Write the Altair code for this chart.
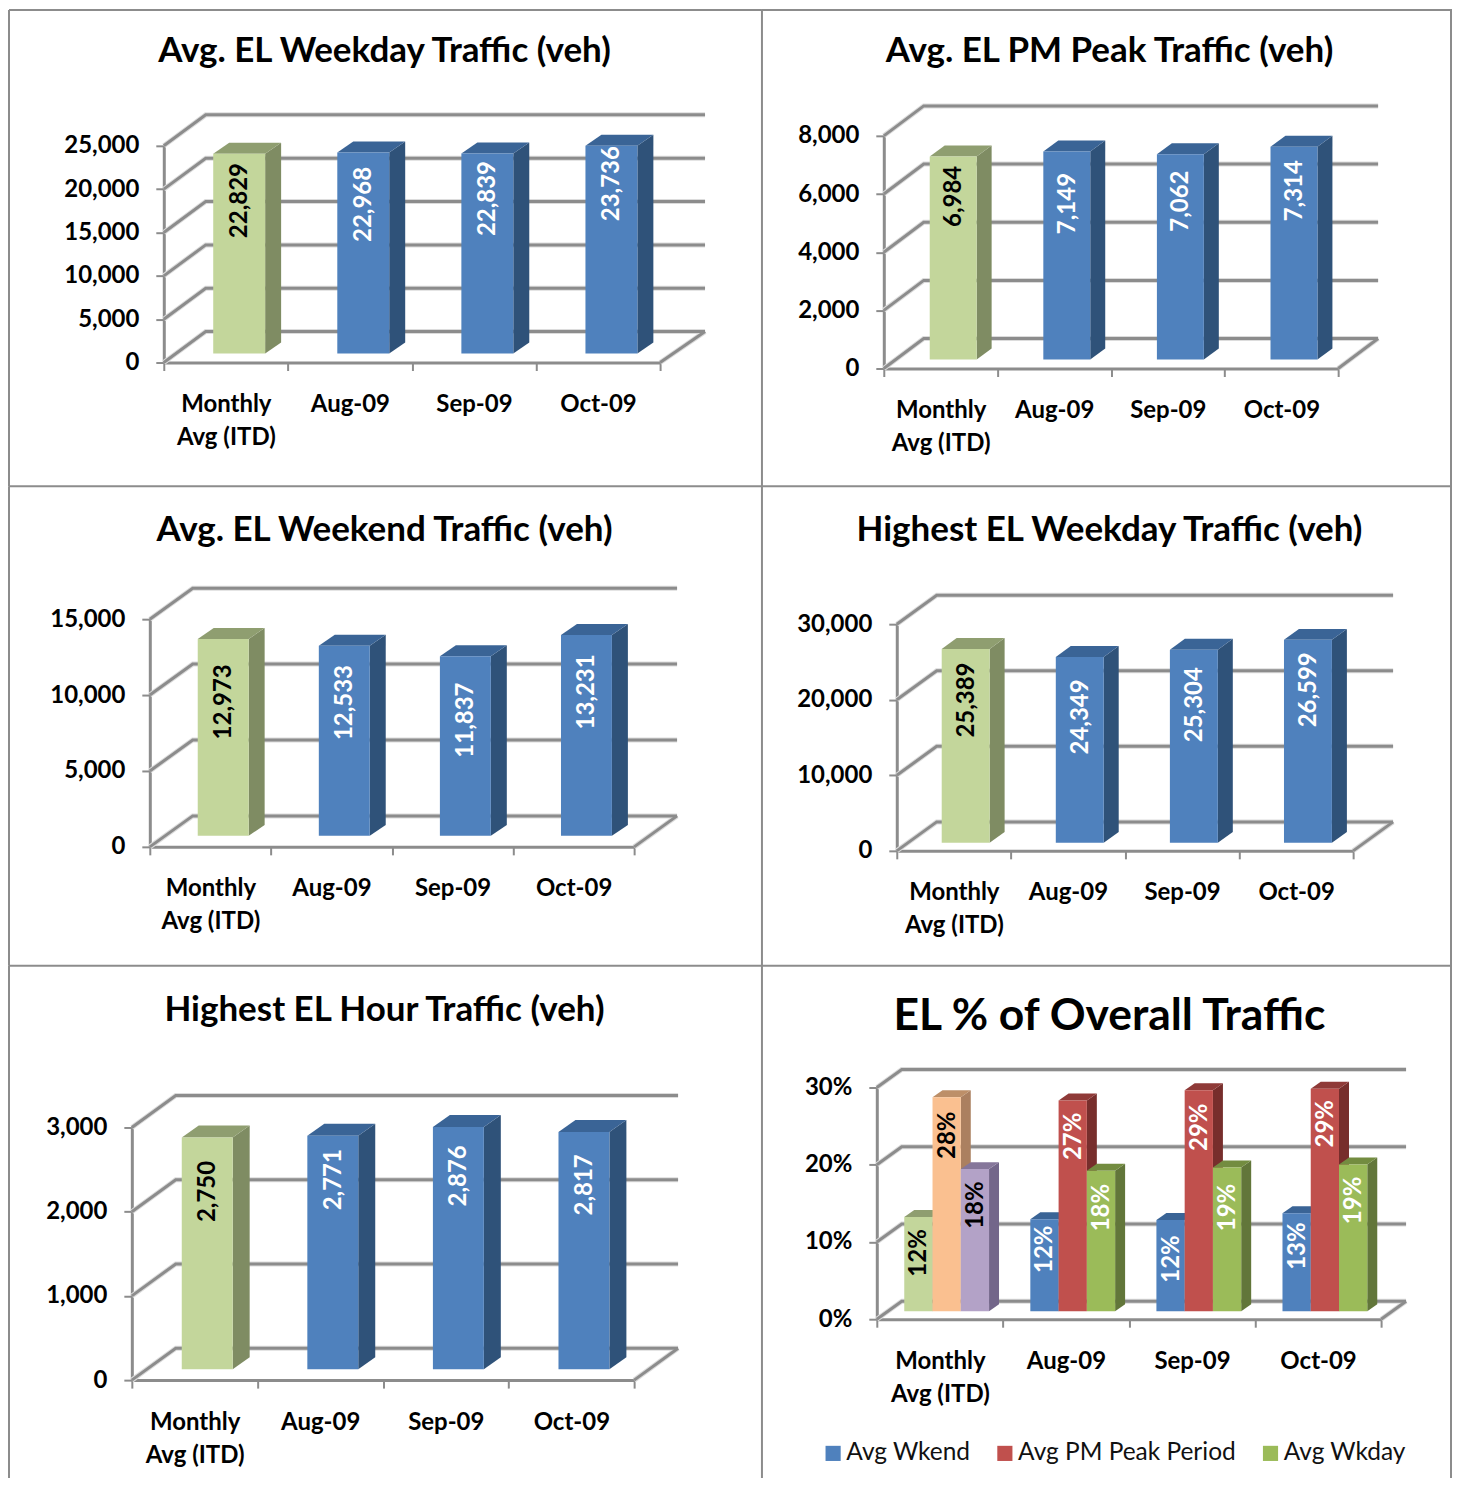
import json
import altair as alt
import pandas as pd

FONT = "Lato"
GRID = "#8c8c8c"
SHADOW = "#dcdcdc"

CATS = [["Monthly", "Avg (ITD)"], "Aug-09", "Sep-09", "Oct-09"]

title_1 = "Avg. EL Weekday Traffic (veh)"
values_1 = [22829, 22968, 22839, 23736]
ticks_1 = [0, 5000, 10000, 15000, 20000, 25000]

title_2 = "Avg. EL PM Peak Traffic (veh)"
values_2 = [6984, 7149, 7062, 7314]
ticks_2 = [0, 2000, 4000, 6000, 8000]

title_3 = "Avg. EL Weekend Traffic (veh)"
values_3 = [12973, 12533, 11837, 13231]
ticks_3 = [0, 5000, 10000, 15000]

title_4 = "Highest EL Weekday Traffic (veh)"
values_4 = [25389, 24349, 25304, 26599]
ticks_4 = [0, 10000, 20000, 30000]

title_5 = "Highest EL Hour Traffic (veh)"
values_5 = [2750, 2771, 2876, 2817]
ticks_5 = [0, 1000, 2000, 3000]

title_6 = "EL % of Overall Traffic"
wkend_6 = [0.122, 0.119, 0.118, 0.127]
peak_6 = [0.277, 0.273, 0.286, 0.288]
wkday_6 = [0.184, 0.182, 0.186, 0.190]
ticks_6 = [0, 0.1, 0.2, 0.3]
series_6 = ["Avg Wkend", "Avg PM Peak Period", "Avg Wkday"]

# front, side, top, text colours
SKIN = {
    "pale": ("#c3d69b", "#7f8c63", "#8f9e70", "black"),
    "blue": ("#4f81bd", "#2f5279", "#3a6496", "white"),
    "orange": ("#fac090", "#ab8060", "#bd8f68", "black"),
    "purple": ("#b3a2c7", "#73668a", "#85769a", "black"),
    "red": ("#c0504d", "#772e2c", "#8f3a38", "white"),
    "green": ("#9bbb59", "#62763a", "#738c40", "white"),
}


def panel(title, series, ticks, fmt, g, title_size=35, legend=False):
    """series: list of (name, values, skin-per-category). g: layout in pixels."""
    step = (g["xr"] - g["fx"]) / 4
    k = (g["fy"] - g["ytop"]) / ticks[-1]
    dx, dy = g["depth"][0] / step, g["depth"][1] / k
    sx, sy = g["side"][0] / step, g["side"][1] / k
    bw = g["bw"] / step
    x0 = (g["bx"] - g["fx"]) / step
    lift = (g["fy"] - g["base"]) / k
    ext = g.get("ext", 0) / step

    # wall and floor lines
    lines = []
    for n, t in enumerate(ticks):
        lines += [{"seg": n, "x": 0, "y": t}, {"seg": n, "x": dx, "y": t + dy},
                  {"seg": n, "x": 4 + dx + ext, "y": t + dy}]
    lines += [{"seg": 99, "x": 4, "y": 0}, {"seg": 99, "x": 4 + dx + ext, "y": dy}]
    lines = pd.DataFrame(lines)

    fronts, sides, tops = [], [], []
    n_bar = 0
    for c in range(4):
        for s, (name, vals, skins) in enumerate(series):
            v = vals[c]
            front, side, top, ink = SKIN[skins[c]]
            a = c + x0 + s * bw
            b = a + bw
            y0 = lift
            y1 = lift + v * g.get("gain", 1)
            key = f"{c}-{s}"
            fronts.append({"x": a, "x2": b, "y": y0, "y2": y1,
                           "series": name if c else name + "*",
                           "mid": (a + b) / 2, "label": format(v, fmt), "ink": ink, "fill": front,
                           "drop": g["ldy"][n_bar]})
            n_bar += 1
            sides += [{"key": key, "x": b, "y": y0, "y2": y1, "fill": side},
                      {"key": key, "x": b + sx, "y": y0 + sy, "y2": y1 + sy, "fill": side}]
            tops += [{"key": key, "x": a, "y": y1, "y2": y1, "fill": top},
                     {"key": key, "x": a + sx, "y": y1, "y2": y1 + sy, "fill": top},
                     {"key": key, "x": b, "y": y1, "y2": y1 + sy, "fill": top},
                     {"key": key, "x": b + sx, "y": y1 + sy, "y2": y1 + sy, "fill": top}]
    fronts, sides, tops = pd.DataFrame(fronts), pd.DataFrame(sides), pd.DataFrame(tops)

    xs = alt.Scale(domain=[0, 4], range=[g["fx"] - g["cx"], g["xr"] - g["cx"]])
    ys = alt.Scale(domain=[0, ticks[-1]], range=[g["fy"] - g["cy"], g["ytop"] - g["cy"]])
    label_expr = f"{json.dumps(CATS)}[datum.value] || ''"
    x_axis = alt.Axis(values=[0, 1, 2, 3, 4], labelExpr=label_expr, title=None, grid=False,
                      offset=-(g["h"] - (g["fy"] - g["cy"])), labelOffset=step / 2, labelPadding=g.get("xpad", 22),
                      labelLineHeight=33, labelBaseline="top", labelFlush=False, labelOverlap=False)
    y_axis = alt.Axis(values=ticks, format=fmt, title=None, grid=False, labelFlush=False, labelOverlap=False,
                      offset=-(g["fx"] - g["cx"]), labelPadding=17)
    X = alt.X("x:Q", scale=xs, axis=x_axis)
    Y = alt.Y("y:Q", scale=ys, axis=y_axis, stack=None)

    grid_shadow = alt.Chart(lines).mark_line(color=SHADOW, strokeWidth=5).encode(X, Y, detail="seg:N")
    grid = alt.Chart(lines).mark_line(color=GRID, strokeWidth=3).encode(X, Y, detail="seg:N")
    side_layer = alt.Chart(sides).mark_area(orient="vertical").encode(
        X, Y, alt.Y2("y2:Q"), detail="key:N", color=alt.Color("fill:N", scale=None))
    top_layer = alt.Chart(tops).mark_area(orient="vertical").encode(
        X, Y, alt.Y2("y2:Q"), detail="key:N", color=alt.Color("fill:N", scale=None))
    if legend:
        dom = list(dict.fromkeys(fronts["series"]))
        rng = [fronts[fronts["series"] == d]["fill"].iloc[0] for d in dom]
        fill = alt.Fill("series:N", scale=alt.Scale(domain=dom, range=rng), legend=alt.Legend(
            values=series_6, orient="none", legendX=g["lx"], legendY=g["ly"], direction="horizontal", columns=3,
            title=None, symbolType="square", symbolSize=230, symbolStrokeWidth=0, labelFont=FONT, labelFontSize=24.5,
            labelFontWeight="normal", labelColor="#111", columnPadding=22, labelOffset=1, labelLimit=400, padding=0))
    else:
        fill = alt.Fill("fill:N", scale=None)
    front_layer = alt.Chart(fronts).mark_rect().encode(X, Y, alt.X2("x2:Q"), alt.Y2("y2:Q"), fill=fill)
    text_layers = [
        alt.Chart(fronts[fronts["drop"] == d]).mark_text(
            angle=270, font=FONT, fontWeight="bold", fontSize=24, dx=-d, dy=1, baseline="middle", align="center"
        ).encode(
            alt.X("mid:Q", scale=xs, axis=x_axis), alt.Y("y2:Q", scale=ys, axis=y_axis),
            text="label:N", color=alt.Color("ink:N", scale=None))
        for d in sorted(set(g["ldy"]))
    ]
    title_layer = alt.Chart(pd.DataFrame({"t": [title]})).mark_text(
        font=FONT, fontSize=title_size, fontWeight="bold", color="black", baseline="middle", align="center"
    ).encode(x=alt.value(g["tx"]), y=alt.value(g["ty"]), text="t:N")

    def rule(**kw):
        return alt.Chart(pd.DataFrame({"e": [0]})).mark_rule(color=GRID, strokeWidth=2).encode(**kw)

    frame = [rule(x=alt.value(0), x2=alt.value(g["w"]), y=alt.value(0)),
             rule(x=alt.value(0), y=alt.value(0), y2=alt.value(g["h"]))]
    if g["cx"] > 8:
        frame.append(rule(x=alt.value(g["w"] - 1), y=alt.value(0), y2=alt.value(g["h"])))

    return alt.layer(grid_shadow, grid, side_layer, top_layer, front_layer, *text_layers, title_layer, *frame).properties(
        width=g["w"], height=g["h"])


W1, W2 = 754, 691
H1, H2, H3 = 477, 480, 513
one = lambda skin: ["pale", skin, skin, skin]

p1 = panel(title_1, [("v", values_1, one("blue"))], ticks_1, ",d",
           dict(cx=8, cy=8, w=W1, h=H1, fx=163, fy=361, ytop=144, xr=660, depth=(42, 31), ext=3, bx=212.5, bw=52,
                base=352, side=(16, 11), ldy=[47, 52, 45, 38], tx=376, ty=41, gain=1.01))
p2 = panel(title_2, [("v", values_2, one("blue"))], ticks_2, ",d",
           dict(cx=762, cy=8, w=W2, h=H1, fx=884, fy=367, ytop=134, xr=1339, depth=(40, 30), bx=930, bw=47,
                base=358, side=(15, 11), ldy=[40, 52, 47, 44], tx=348, ty=41))
p3 = panel(title_3, [("v", values_3, one("blue"))], ticks_3, ",d",
           dict(cx=8, cy=485, w=W1, h=H2, fx=149, fy=846, ytop=618, xr=634, depth=(43, 31), bx=197, bw=51,
                base=835, side=(16, 11), ldy=[63, 57, 64, 57], tx=376, ty=44))
p4 = panel(title_4, [("v", values_4, one("blue"))], ticks_4, ",d",
           dict(cx=762, cy=485, w=W2, h=H2, fx=897, fy=850, ytop=623, xr=1354, depth=(40, 29), bx=942, bw=48,
                base=842, side=(15, 11), ldy=[51, 60, 55, 50], tx=348, ty=44, gain=1.01))
p5 = panel(title_5, [("v", values_5, one("blue"))], ticks_5, ",d",
           dict(cx=8, cy=965, w=W1, h=H3, fx=131, fy=1380, ytop=1127, xr=634, depth=(44, 32), bx=181, bw=51,
                base=1369, side=(17, 12), ldy=[54, 44, 49, 53], tx=376, ty=44))
p6 = panel(title_6, [(series_6[0], wkend_6, ["pale", "blue", "blue", "blue"]),
                     (series_6[1], peak_6, ["orange", "red", "red", "red"]),
                     (series_6[2], wkday_6, ["purple", "green", "green", "green"])],
           ticks_6, ".0%",
           dict(cx=762, cy=965, w=W2, h=H3, fx=877, fy=1319, ytop=1087, xr=1382, depth=(25, 18), bx=904.5, bw=28.3,
                base=1311, side=(10, 7), ldy=[36, 38, 36, 30, 36, 37, 39, 37, 40, 33, 35, 36],
                tx=348, ty=51, lx=813, ly=1433),
           title_size=44.5, legend=True)

chart = alt.concat(p1, p2, p3, p4, p5, p6, columns=2, spacing=0, bounds="flush").properties(padding=0).configure_view(
    stroke=None
).configure_axis(
    labelFont=FONT, labelFontSize=24, labelFontWeight="bold", labelColor="black",
    domainColor=GRID, domainWidth=3, tickColor=GRID, tickWidth=2, tickSize=8,
)

chart.save("out.html", embed_options={"renderer": "svg", "actions": False})
